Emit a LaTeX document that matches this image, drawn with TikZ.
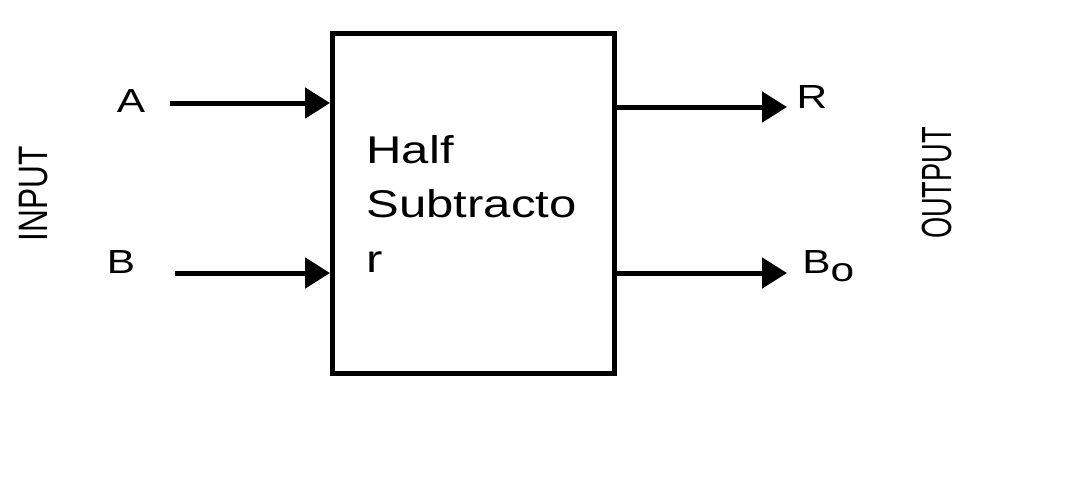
\documentclass[tikz,border=0pt]{standalone}
\usepackage{fontspec}
\setmainfont{Liberation Sans}
\usetikzlibrary{arrows.meta,positioning}

\begin{document}
\begin{tikzpicture}[
  x=0.02cm, y=-0.02cm,
  blk/.style={draw=black,line width=0.1cm,minimum width=5.65cm,minimum height=6.8cm},
  blktext/.style={inner sep=0pt,align=left,xscale=1.27,font=\fontsize{22}{31}\selectfont},
  lbl/.style={inner sep=0pt,xscale=1.27,font=\fontsize{19}{22}\selectfont},
  side/.style={inner sep=0pt,rotate=90},
  wire/.style={line width=0.1cm,-{Triangle[length=0.5cm,width=0.6cm]}}
]
\useasboundingbox (0,0) rectangle (1068,501);
\node[blk] (sub) at (473.75,203.5) {};
\node[blktext,anchor=north west] (subname) at (366,135) {Half\\Subtracto\\r};
% inputs
\node[lbl,anchor=base] (a) at (131,112) {A};
\node[lbl,anchor=base] (b) at (121,273) {B};
\coordinate (a0) at (170,103);
\coordinate (b0) at (175,273);
\draw[wire] (a0) -- (a0 -| sub.west);
\draw[wire] (b0) -- (b0 -| sub.west);
% outputs
\coordinate (r1) at (787,107);
\coordinate (bo1) at (787,273);
\draw[wire] (r1 -| sub.east) -- (r1);
\draw[wire] (bo1 -| sub.east) -- (bo1);
\node[lbl,anchor=base] (r) at (812,108) {R};
\node[lbl,anchor=base west] (bo) at (802,273) {B\raisebox{-5pt}{o}};
% side labels
\node[side,font=\fontsize{18}{20}\selectfont] (inp) at (34,194) {\scalebox{1}[1.3]{INPUT}};
\node[side,font=\fontsize{15.5}{18}\selectfont] (outp) at (937,183) {\scalebox{1}[1.55]{OUTPUT}};
\end{tikzpicture}
\end{document}
